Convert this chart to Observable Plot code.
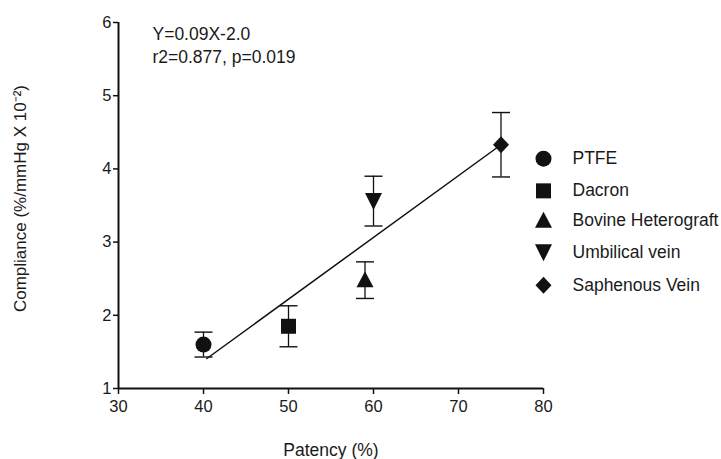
<!DOCTYPE html>
<html>
<head>
<meta charset="utf-8">
<script src="https://cdn.jsdelivr.net/npm/d3@7"></script>
<script src="https://cdn.jsdelivr.net/npm/@observablehq/plot@0.6"></script>
<style>
  html, body { margin: 0; padding: 0; background: #fff; }
  #chart { width: 721px; height: 459px; }
</style>
</head>
<body>
<div id="chart"></div>
<script>
// Data
const grafts = ["PTFE", "Dacron", "Bovine Heterograft", "Umbilical vein", "Saphenous Vein"];
const patency = [40, 50, 59, 60, 75];
const compliance = [1.60, 1.85, 2.48, 3.56, 4.33];
const errSD = [0.17, 0.28, 0.25, 0.34, 0.44];

// Regression line endpoints (as drawn)
const fitX = [40.4, 75];
const fitY = [1.41, 4.33];

// Legend placement (data space, drawn in the right margin)
const legendX = 80;
const legendY = [4.14, 3.70, 3.29, 2.86, 2.41];

const xTicks = [30, 40, 50, 60, 70, 80];
const yTicks = [1, 2, 3, 4, 5, 6];

const annotation = "Y=0.09X-2.0\nr2=0.877, p=0.019";

// Symbols (fixed pixel geometry)
const circle = {draw(c) { c.moveTo(8, 0); c.arc(0, 0, 8, 0, 2 * Math.PI); c.closePath(); }};
const square = {draw(c) { c.rect(-7.5, -7.5, 15, 15); }};
const triUp = {draw(c) { c.moveTo(-8.5, 7); c.lineTo(8.5, 7); c.lineTo(0, -9); c.closePath(); }};
const triDown = {draw(c) { c.moveTo(-8.5, -8); c.lineTo(8.5, -8); c.lineTo(0, 9); c.closePath(); }};
const diamond = {draw(c) { c.moveTo(0, -8.5); c.lineTo(8, 0); c.lineTo(0, 8.5); c.lineTo(-8, 0); c.closePath(); }};
const cap = {draw(c) { c.moveTo(-9, 0); c.lineTo(9, 0); }};
const symbols = [circle, square, triUp, triDown, diamond];

const rows = grafts.map((g, i) => ({
  graft: g, x: patency[i], y: compliance[i],
  lo: compliance[i] - errSD[i], hi: compliance[i] + errSD[i],
  ly: legendY[i]
}));
const fit = fitX.map((x, i) => ({x, y: fitY[i]}));

const ink = "#111";
const txt = "#1a1a1a";

const marks = [
  Plot.line(fit, {x: "x", y: "y", stroke: ink, strokeWidth: 1.5}),
  Plot.ruleX(rows, {x: "x", y1: "lo", y2: "hi", stroke: ink, strokeWidth: 1.3}),
  Plot.dot(rows, {x: "x", y: "lo", symbol: cap, stroke: ink, strokeWidth: 1.4}),
  Plot.dot(rows, {x: "x", y: "hi", symbol: cap, stroke: ink, strokeWidth: 1.4}),
];
rows.forEach((d, i) => {
  marks.push(Plot.dot([d], {x: "x", y: "y", symbol: symbols[i], fill: ink, stroke: "none"}));
  marks.push(Plot.dot([d], {x: () => legendX, y: "ly", symbol: symbols[i], fill: ink, stroke: "none"}));
});
marks.push(
  Plot.text(rows, {x: () => legendX, y: "ly", text: "graft", textAnchor: "start", dx: 29, fill: txt, fontSize: 17.5}),
  Plot.text([annotation], {frameAnchor: "top-left", dx: 34, dy: 2, textAnchor: "start", lineAnchor: "top", lineHeight: 1.27, fill: txt, fontSize: 17.5}),
  Plot.axisX({ticks: xTicks, tickFormat: "d", tickSize: 6, tickPadding: 6, fontSize: 16.5, label: null, stroke: ink, strokeWidth: 1.5, color: txt}),
  Plot.axisY({ticks: yTicks, tickFormat: "d", tickSize: 5, tickPadding: 2, fontSize: 16.5, label: null, stroke: ink, strokeWidth: 1.5, color: txt}),
  Plot.text(["Patency (%)"], {frameAnchor: "bottom", dy: 67, lineAnchor: "bottom", fontSize: 17.5, fill: txt}),
  Plot.text(["Compliance (%/mmHg X 10⁻²)"], {frameAnchor: "left", textAnchor: "middle", dx: -98, dy: -7, rotate: -90, fontSize: 17, fill: txt}),
  Plot.ruleX([30], {stroke: ink, strokeWidth: 2}),
  Plot.ruleY([1], {stroke: ink, strokeWidth: 2})
);

const chart = Plot.plot({
  width: 721,
  height: 459,
  marginLeft: 118,
  marginRight: 178,
  marginTop: 22,
  marginBottom: 71,
  style: {fontFamily: "'Liberation Sans', Arial, sans-serif", fontSize: "16px", background: "#fff", color: txt, overflow: "visible"},
  x: {domain: [30, 80]},
  y: {domain: [1, 6]},
  marks
});
document.getElementById("chart").appendChild(chart);
</script>
</body>
</html>
